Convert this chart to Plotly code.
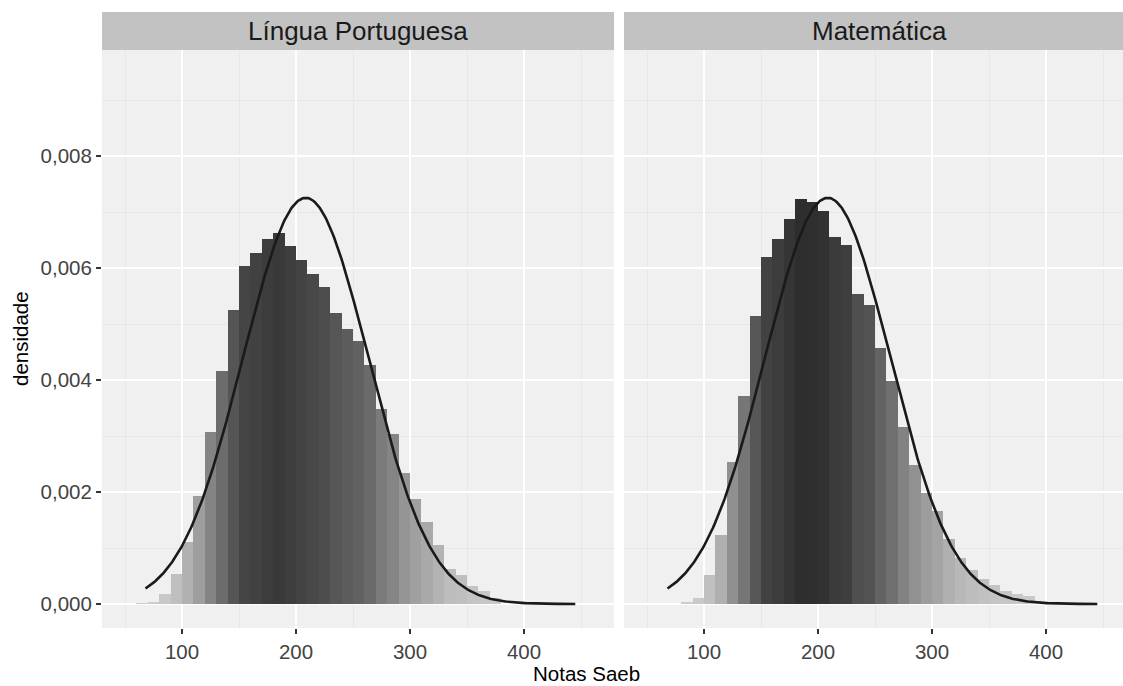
import numpy as np
import plotly.graph_objects as go

# ---------------- data ----------------
panels = ["Língua Portuguesa", "Matemática"]

lp_bin_left = [60, 70, 80, 90, 100, 110, 120, 130, 140, 150, 160, 170, 180, 190, 200, 210,
               220, 230, 240, 250, 260, 270, 280, 290, 300, 310, 320, 330, 340, 350, 360, 370]
lp_density = [0.00001, 0.00004, 0.00017, 0.00054, 0.00111, 0.00193, 0.00308, 0.00416,
              0.00525, 0.00604, 0.00626, 0.00652, 0.00663, 0.00640, 0.00614, 0.00589,
              0.00566, 0.00519, 0.00491, 0.00469, 0.00426, 0.00349, 0.00304, 0.00234,
              0.00187, 0.00146, 0.00105, 0.00062, 0.00052, 0.00032, 0.00023, 0.00011]

mt_bin_left = [80, 90, 100, 110, 120, 130, 140, 150, 160, 170, 180, 190, 200, 210, 220, 230,
               240, 250, 260, 270, 280, 290, 300, 310, 320, 330, 340, 350, 360, 370, 380, 390]
mt_density = [0.00002, 0.00011, 0.00051, 0.00123, 0.00254, 0.00372, 0.00515, 0.00620,
              0.00652, 0.00687, 0.00723, 0.00717, 0.00702, 0.00655, 0.00641, 0.00554,
              0.00534, 0.00458, 0.00399, 0.00316, 0.00249, 0.00199, 0.00166, 0.00116,
              0.00083, 0.00061, 0.00045, 0.00034, 0.00023, 0.00017, 0.00014, 0.00004]

bin_width = 10

# normal reference curve parameters
curve_mean = 208.5
curve_sd = 55.0
curve_from = 68
curve_to = 445

x_ticks = [100, 200, 300, 400]
y_ticks = [0.000, 0.002, 0.004, 0.006, 0.008]

# ---------------- helpers ----------------
W, H = 1123, 686


def px_x(p):
    return p / W


def px_y(p):
    return 1 - p / H


def lstar(v):
    c = v / 255
    lin = ((c + 0.055) / 1.055) ** 2.4 if c > 0.04045 else c / 12.92
    f = lin ** (1 / 3) if lin > 0.008856 else 7.787 * lin + 16 / 116
    return 116 * f - 16


def from_lstar(L):
    fy = (L + 16) / 116
    lin = fy ** 3 if fy ** 3 > 0.008856 else (fy - 16 / 116) / 7.787
    c = 1.055 * lin ** (1 / 2.4) - 0.055 if lin > 0.0031308 else 12.92 * lin
    v = int(round(max(0, min(1, c)) * 255))
    return f"rgb({v},{v},{v})"


L_low, L_high = lstar(204), lstar(46)
dmax = max(max(lp_density), max(mt_density))


def fill(d):
    t = d / dmax
    return from_lstar(L_low + (L_high - L_low) * t)


# ---------------- figure ----------------
fig = go.Figure()

xc = np.linspace(curve_from, curve_to, 400)
yc = np.exp(-0.5 * ((xc - curve_mean) / curve_sd) ** 2) / (curve_sd * np.sqrt(2 * np.pi))

for i, (bl, dens) in enumerate([(lp_bin_left, lp_density), (mt_bin_left, mt_density)]):
    xa = "x" if i == 0 else "x2"
    ya = "y" if i == 0 else "y2"
    centers = [b + bin_width / 2 for b in bl]
    fig.add_trace(go.Bar(x=centers, y=dens, width=bin_width,
                         marker=dict(color=[fill(d) for d in dens], line=dict(width=0)),
                         xaxis=xa, yaxis=ya, showlegend=False, hoverinfo="x+y"))
    fig.add_trace(go.Scatter(x=xc, y=yc, mode="lines",
                             line=dict(color="#1a1a1a", width=2.6),
                             xaxis=xa, yaxis=ya, showlegend=False, hoverinfo="skip"))

scale = 1.14  # px per data unit
left_dom = (102, 614)
right_dom = (624, 1123)
x0_data = 100 - (182 - 102) / scale
xr_left = [x0_data, x0_data + (left_dom[1] - left_dom[0]) / scale]
xr_right = [x0_data, x0_data + (right_dom[1] - right_dom[0]) / scale]

yr = [-(628 - 604) / 56000, (604 - 50) / 56000]
ydom = [px_y(628), px_y(50)]

font = "Liberation Sans, Arial, sans-serif"
tick_font = dict(size=20.5, color="#444444", family=font)

common_x = dict(
    tickvals=x_ticks, ticks="outside", ticklen=5, tickwidth=1.5, tickcolor="#333333",
    tickfont=tick_font,
    showgrid=True, gridcolor="white", gridwidth=2, zeroline=False, showline=False,
    minor=dict(tickvals=[50, 150, 250, 350, 450], showgrid=True, gridcolor="#e7e7e7",
               gridwidth=1, ticks=""),
    fixedrange=True,
)
common_y = dict(
    range=yr, domain=ydom, tickvals=y_ticks, tickformat=".3f", ticks="outside", ticklen=5,
    tickwidth=1.5, tickcolor="#333333", tickfont=tick_font,
    showgrid=True, gridcolor="white", gridwidth=2, zeroline=False, showline=False,
    minor=dict(tickvals=[0.001, 0.003, 0.005, 0.007, 0.009], showgrid=True,
               gridcolor="#e7e7e7", gridwidth=1, ticks=""),
    fixedrange=True,
)

fig.update_layout(
    width=W, height=H, margin=dict(l=0, r=0, t=0, b=0),
    paper_bgcolor="white", plot_bgcolor="#f0f0f0",
    separators=",.", bargap=0, barmode="overlay",
    font=dict(family=font),
    xaxis=dict(domain=[px_x(left_dom[0]), px_x(left_dom[1])], range=xr_left, anchor="y", **common_x),
    xaxis2=dict(domain=[px_x(right_dom[0]), px_x(right_dom[1])], range=xr_right, anchor="y2", **common_x),
    yaxis=dict(anchor="x", **common_y),
    yaxis2=dict(anchor="x2", showticklabels=False, ticks="",
                **{k: v for k, v in common_y.items() if k not in ("ticks",)}),
)

# strips
strip_top, strip_bot = 12, 50
for (a, b), label in zip([left_dom, (624, 1135)], panels):
    fig.add_shape(type="rect", xref="paper", yref="paper",
                  x0=px_x(a), x1=px_x(min(b, W)), y0=px_y(strip_bot), y1=px_y(strip_top),
                  fillcolor="#c2c2c2", line=dict(width=0), layer="below")
    fig.add_annotation(text=label, xref="paper", yref="paper", x=px_x((a + b) / 2),
                       y=px_y((strip_top + strip_bot) / 2), showarrow=False,
                       font=dict(size=26, color="#1a1a1a", family=font),
                       xanchor="center", yanchor="middle")

# axis titles
fig.add_annotation(text="Notas Saeb", xref="paper", yref="paper", x=px_x(586), y=px_y(686),
                   showarrow=False, font=dict(size=20.5, color="black", family=font),
                   xanchor="center", yanchor="bottom", borderpad=0)
fig.add_annotation(text="densidade", xref="paper", yref="paper", x=px_x(20), y=px_y(339),
                   showarrow=False, textangle=-90, font=dict(size=20.5, color="black", family=font),
                   xanchor="center", yanchor="middle")

fig.write_html("out.html")
